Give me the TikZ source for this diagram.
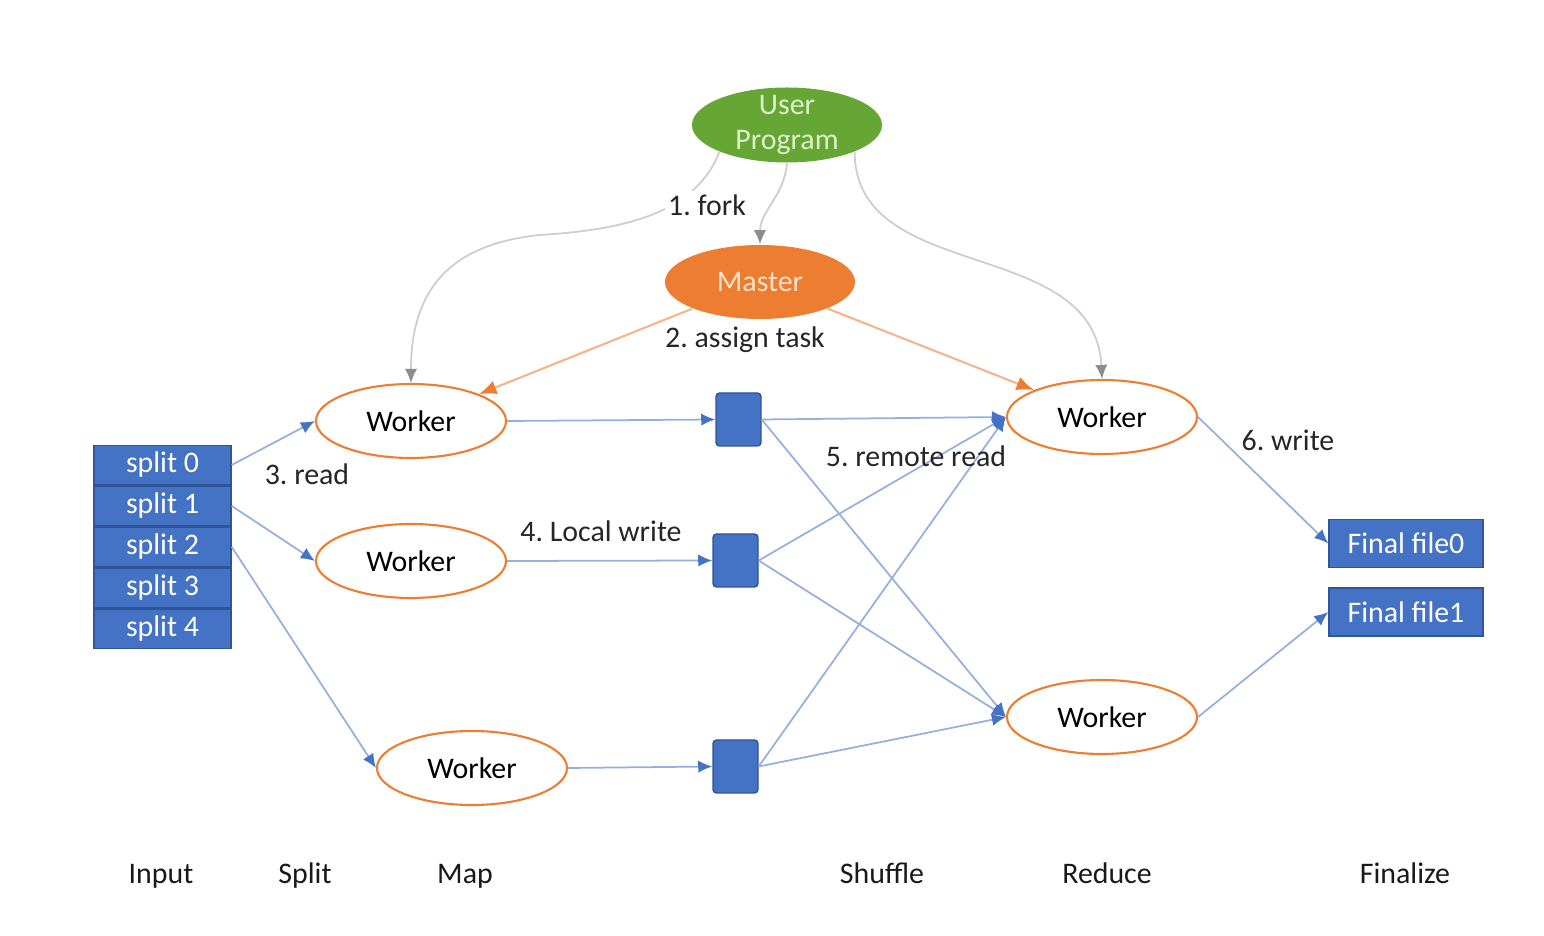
\documentclass[tikz,border=0pt]{standalone}
\usepackage{fontspec}
\setmainfont{Carlito}
\usetikzlibrary{positioning, arrows.meta, shapes.geometric}
\definecolor{upgreen}{RGB}{101,166,52}
\definecolor{uptext}{RGB}{222,242,204}
\definecolor{mastorange}{RGB}{237,125,49}
\definecolor{masttext}{RGB}{252,226,204}
\definecolor{boxblue}{RGB}{68,114,196}
\definecolor{boxedge}{RGB}{47,85,151}
\definecolor{flowline}{RGB}{150,176,222}
\definecolor{forkline}{RGB}{205,205,205}
\definecolor{forkhead}{RGB}{140,140,140}
\definecolor{taskline}{RGB}{245,180,140}
\tikzset{
  ctrl/.style={
    ellipse,
    minimum width=1.9cm,
    minimum height=0.75cm,
    inner sep=0pt,
    align=center
  },
  worker/.style={
    ctrl,
    draw=mastorange,
    semithick,
    fill=white,
    minimum height=0.74cm
  },
  split/.style={
    draw=boxedge,
    fill=boxblue,
    text=white,
    minimum width=1.37cm,
    minimum height=0.395cm,
    inner sep=0pt
  },
  buffer/.style={
    draw=boxedge,
    fill=boxblue,
    rounded corners=1pt,
    minimum width=0.45cm,
    minimum height=0.53cm,
    inner sep=0pt
  },
  finalbox/.style={
    split,
    minimum width=1.54cm,
    minimum height=0.48cm
  },
  flow/.style={
    draw=flowline,
    line width=0.5pt,
    -{Latex[length=4pt,width=3.5pt,color=boxblue]}
  },
  fork/.style={
    draw=forkline,
    line width=0.5pt,
    -{Latex[length=4pt,width=3.5pt,color=forkhead]}
  },
  task/.style={
    draw=taskline,
    line width=0.6pt,
    -{Latex[length=5pt,width=4pt,color=mastorange]}
  },
  step label/.style={
    text=black!85,
    inner sep=1pt
  },
  stage/.style={
    anchor=base,
    text=black!90
  }
}

\begin{document}
\frenchspacing
\begin{tikzpicture}[font=\fontsize{8.5pt}{10.2pt}\selectfont]
        \useasboundingbox (0,0) rectangle (15.44,-9.36);

        % control nodes
        \node[ctrl, fill=upgreen, text=uptext, inner ysep=-1.2pt] (up) at (7.87,-1.25) {User\\Program};
        \node[ctrl, fill=mastorange, text=masttext, minimum height=0.74cm] (master) at (7.60,-2.82) {Master};

        % input splits
        \node[split] (s0) at (1.625,-4.65) {split 0};
        \node[split, below=0pt of s0] (s1) {split 1};
        \node[split, below=0pt of s1] (s2) {split 2};
        \node[split, below=0pt of s2] (s3) {split 3};
        \node[split, below=0pt of s3] (s4) {split 4};

        % map workers and local files
        \node[worker] (w1) at (4.11,-4.21) {Worker};
        \node[worker] (w2) at (4.11,-5.61) {Worker};
        \node[worker] (w3) at (4.72,-7.68) {Worker};
        \node[buffer] (b1) at (7.385,-4.195) {};
        \node[buffer] (b2) at (7.355,-5.605) {};
        \node[buffer] (b3) at (7.355,-7.665) {};

        % reduce workers and output
        \node[worker] (r1) at (11.02,-4.17) {Worker};
        \node[worker] (r2) at (11.02,-7.17) {Worker};
        \node[finalbox] (f0) at (14.06,-5.435) {Final file0};
        \node[finalbox] (f1) at (14.06,-6.12) {Final file1};

        % 1. fork
        \draw[fork] (up.south west) .. controls (6.95,-2.15) and (6.2,-2.3) .. (5.4,-2.35)
          .. controls (4.4,-2.45) and (4.11,-3.0) .. (w1.north);
        \draw[fork] (up.south) to[out=-95,in=90] (master.north);
        \draw[fork] (up.south east) .. controls (8.55,-2.85) and (10.95,-2.35) .. (r1.north);

        % 2. assign task
        \draw[task] (master.south west) -- (w1.north east);
        \draw[task] (master.south east) -- (r1.north west);

        % 3. read
        \draw[flow] (s0.east) -- (w1.west);
        \draw[flow] (s1.east) -- (w2.west);
        \draw[flow] (s2.east) -- (w3.west);

        % 4. local write
        \draw[flow] (w1.east) -- (b1.west);
        \draw[flow] (w2.east) -- (b2.west);
        \draw[flow] (w3.east) -- (b3.west);

        % 5. remote read
        \foreach \b in {b1,b2,b3} {
          \draw[flow] (\b.east) -- (r1.west);
          \draw[flow] (\b.east) -- (r2.west);
        }

        % 6. write
        \draw[flow] (r1.east) -- (f0.west);
        \draw[flow] (r2.east) -- (f1.west);

        % step labels
        \node[step label, fill=white] (l1) at (7.07,-2.05) {1. fork};
        \node[step label] (l2) at (7.45,-3.40) {2. assign task};
        \node[step label] (l3) at (3.07,-4.74) {3. read};
        \node[step label] (l4) at (6.01,-5.31) {4. Local write};
        \node[step label] (l5) at (9.16,-4.56) {5. remote read};
        \node[step label] (l6) at (12.88,-4.40) {6. write};

        % stage names
        \node[stage] (input) at (1.61,-8.84) {Input};
        \node[stage] (splitname) at (3.05,-8.84) {Split};
        \node[stage] (map) at (4.65,-8.84) {Map};
        \node[stage] (shuffle) at (8.82,-8.84) {Shuffle};
        \node[stage] (reduce) at (11.07,-8.84) {Reduce};
        \node[stage] (finalize) at (14.05,-8.84) {Finalize};
      \end{tikzpicture}
\end{document}
